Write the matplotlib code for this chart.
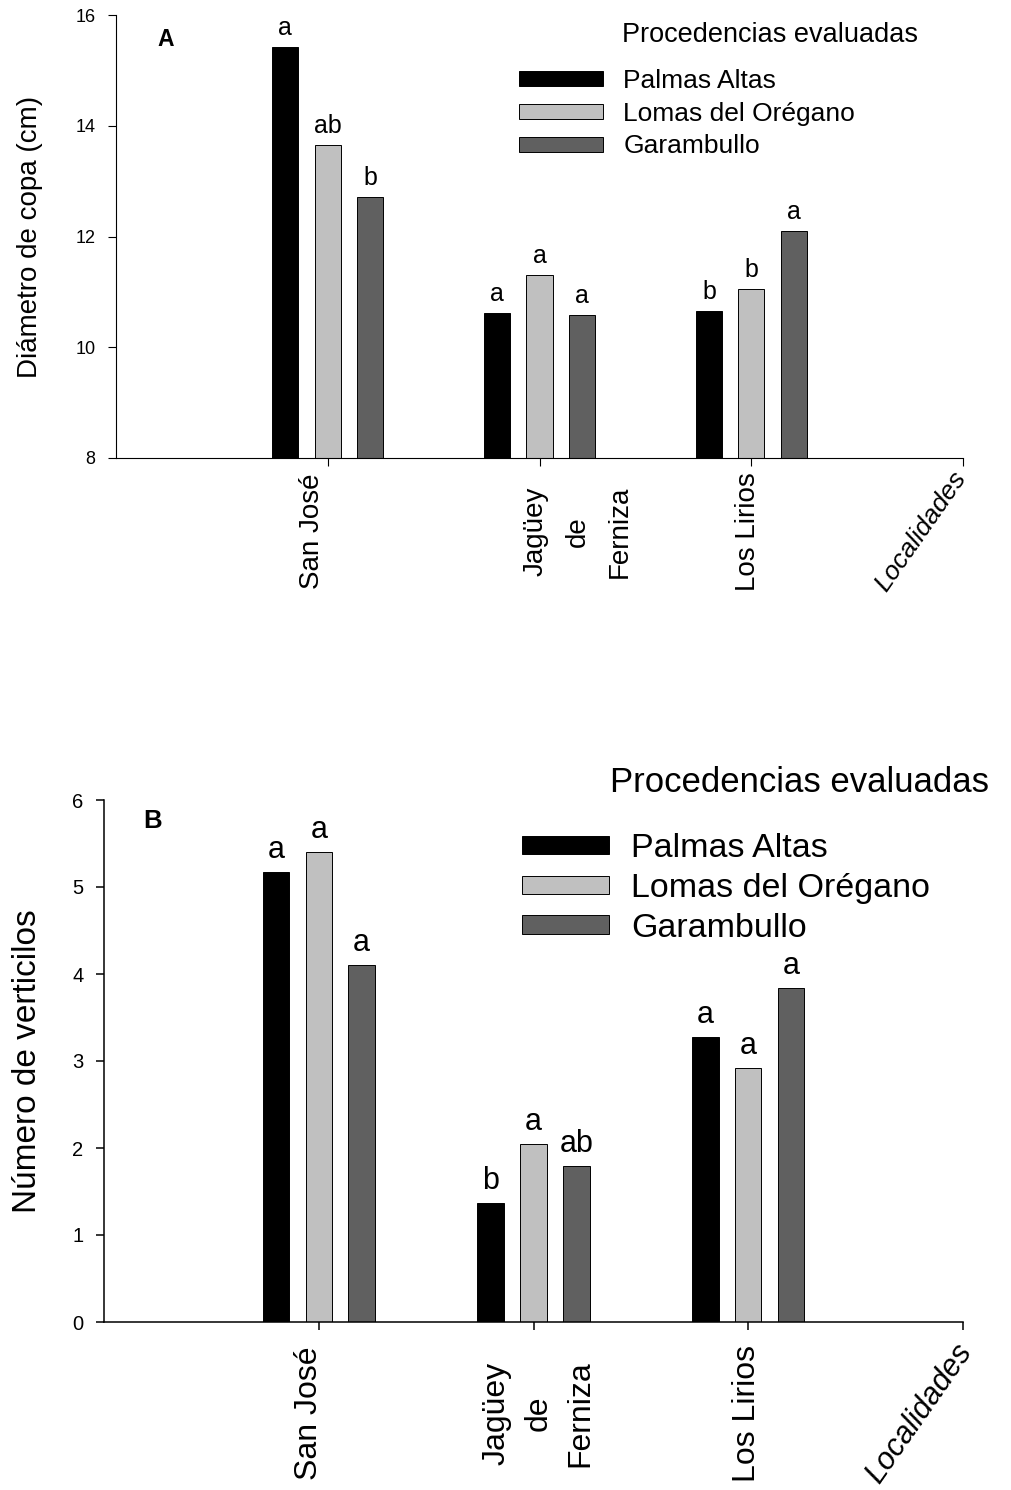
import numpy as np
import matplotlib
matplotlib.use("Agg")
import matplotlib.pyplot as plt
from matplotlib.transforms import ScaledTranslation

plt.rcParams["font.family"] = ["Liberation Sans", "DejaVu Sans"]

# categorias y series
localidades = ["San José", "Jagüey\nde\nFerniza", "Los Lirios"]
eje_x_nombre = "Localidades"
procedencias = ["Palmas Altas", "Lomas del Orégano", "Garambullo"]
titulo_leyenda = "Procedencias evaluadas"
colores = ["#000000", "#c0c0c0", "#606060"]

# panel A: diametro de copa (cm)
diametro_palmas = [15.43, 10.62, 10.66]
diametro_lomas = [13.65, 11.30, 11.05]
diametro_garambullo = [12.71, 10.59, 12.10]
letras_diam_palmas = ["a", "a", "b"]
letras_diam_lomas = ["ab", "a", "b"]
letras_diam_garambullo = ["b", "a", "a"]
yticks_a = [8, 10, 12, 14, 16]

# panel B: numero de verticilos
vert_palmas = [5.17, 1.37, 3.28]
vert_lomas = [5.40, 2.05, 2.92]
vert_garambullo = [4.10, 1.79, 3.84]
letras_vert_palmas = ["a", "b", "a"]
letras_vert_lomas = ["a", "a", "a"]
letras_vert_garambullo = ["a", "ab", "a"]
yticks_b = [0, 1, 2, 3, 4, 5, 6]

W, H = 1011, 1490
fig = plt.figure(figsize=(W / 100, H / 100), dpi=100)


def px_offset(dx, dy=0):
    return ScaledTranslation(dx / 100, -dy / 100, fig.dpi_scale_trans)


def panel(rect, series, letras, ylim, yticks, ylabel, lab_x, fs):
    ax = fig.add_axes(rect)
    pos = np.arange(1, len(localidades) + 1)
    for i, (vals, lets) in enumerate(zip(series, letras)):
        xs = pos + (i - 1) * 0.2
        ax.bar(xs, vals, width=0.123, color=colores[i], edgecolor="black",
               linewidth=0.7, label=procedencias[i])
        for x, v, l in zip(xs, vals, lets):
            ax.annotate(l, (x, v), xytext=(0, 5), textcoords="offset points",
                        ha="center", va="bottom", fontsize=fs["letter"])
    ax.set_xlim(0, 4)
    ax.set_ylim(*ylim)
    ax.set_yticks(yticks)
    ax.set_xticks([1, 2, 3, 4])
    ax.set_xticklabels(localidades + [eje_x_nombre])
    for s in ["top", "right"]:
        ax.spines[s].set_visible(False)
    for s in ["left", "bottom"]:
        ax.spines[s].set_linewidth(fs["spine"])
    ax.tick_params(axis="both", direction="out", length=5.8, width=fs["spine"])
    ax.tick_params(axis="y", labelsize=fs["ytick"], pad=fs["ypad"])
    ax.tick_params(axis="x", labelsize=fs["xtick"], pad=fs["xpad"])
    ax.set_ylabel(ylabel, fontsize=fs["ylabel"])
    ax.yaxis.set_label_coords(lab_x, 0.5)
    for lab, dx in zip(ax.get_xticklabels(), fs["xoff"]):
        lab.set_va("center")
        lab.set_ha("center")
        if lab.get_text() == eje_x_nombre:
            lab.set_rotation(55)
            lab.set_style("italic")
            lab.set_fontsize(fs["xtick"] - 1)
        else:
            lab.set_rotation(90)
            lab.set_linespacing(fs["lsp"])
        lab.set_transform(lab.get_transform() + px_offset(dx))
    return ax


fs_a = dict(letter=18, spine=0.8, ytick=13, ypad=9, xtick=20, xpad=47,
            ylabel=20, lsp=1.8, xoff=[-16, 38, -3, -42])
ax_a = panel([116 / W, 1 - 458 / H, 847 / W, 443 / H],
             [diametro_palmas, diametro_lomas, diametro_garambullo],
             [letras_diam_palmas, letras_diam_lomas, letras_diam_garambullo],
             (8, 16), yticks_a, "Diámetro de copa (cm)", -0.086, fs_a)

fs_b = dict(letter=22, spine=1.1, ytick=14.5, ypad=9, xtick=23, xpad=60,
            ylabel=24, lsp=1.5, xoff=[-10, 5, -1, -44])
ax_b = panel([104 / W, 1 - 1322 / H, 859 / W, 522 / H],
             [vert_palmas, vert_lomas, vert_garambullo],
             [letras_vert_palmas, letras_vert_lomas, letras_vert_garambullo],
             (0, 6), yticks_b, "Número de verticilos", -0.071, fs_b)

fig.text(157 / W, 1 - 40 / H, "A", fontsize=16.5, fontweight="bold", va="center")
fig.text(143 / W, 1 - 821 / H, "B", fontsize=18.5, fontweight="bold", va="center")

fig.text(770 / W, 1 - 35 / H, titulo_leyenda, fontsize=19.5, ha="center", va="center")
fig.text(800 / W, 1 - 783 / H, titulo_leyenda, fontsize=25, ha="center", va="center")

ax_a.legend(loc="upper left", bbox_to_anchor=(519 / W, 1 - 69 / H),
            bbox_transform=fig.transFigure, frameon=False, fontsize=19,
            borderpad=0, borderaxespad=0, handlelength=3.2, handleheight=0.5,
            handletextpad=0.75, labelspacing=0.33)
ax_b.legend(loc="upper left", bbox_to_anchor=(522 / W, 1 - 833 / H),
            bbox_transform=fig.transFigure, frameon=False, fontsize=24.5,
            borderpad=0, borderaxespad=0, handlelength=2.55, handleheight=0.45,
            handletextpad=0.65, labelspacing=0.26)

fig.savefig("out.png", dpi=100)
